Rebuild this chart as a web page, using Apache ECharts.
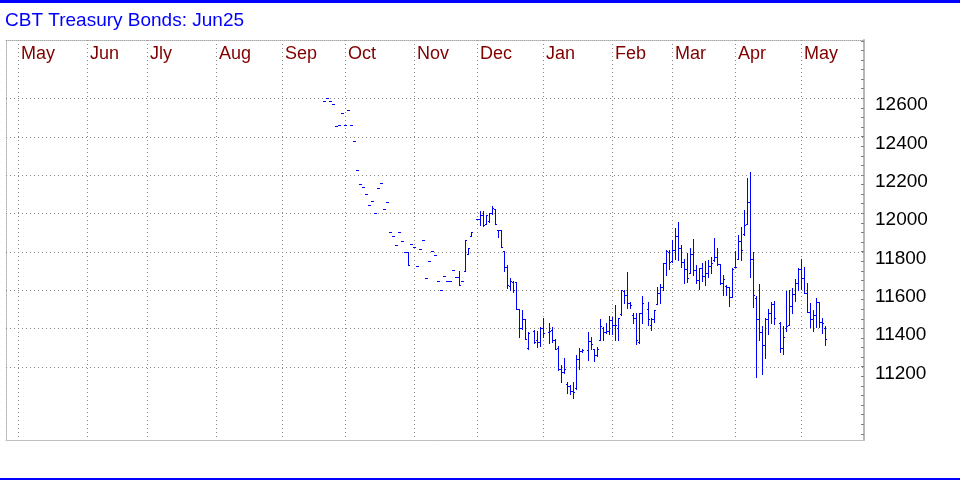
<!DOCTYPE html>
<html><head><meta charset="utf-8">
<script src="https://cdn.jsdelivr.net/npm/echarts@6/dist/echarts.min.js"></script>
<style>html,body{margin:0;padding:0;background:#fff}#c{width:960px;height:480px}</style>
</head><body><div id="c"></div>
<script>
const chartTitle = 'CBT Treasury Bonds: Jun25';
const axisStart = '2024-04-24';   // first weekday slot on the time axis
const axisDays = 287;             // number of weekday slots
const firstBar = '2024-09-19';    // date of the first price bar
const monthNames = ['Jan','Feb','Mar','Apr','May','Jun','Jly','Aug','Sep','Oct','Nov','Dec'];
const yLabels = [11200,11400,11600,11800,12000,12200,12400,12600];

const opens = [
12584,12600,12584,12569,12454,12459,12522,12459,12537,12459,
12376,12224,12151,12136,12099,12042,12063,12000,12131,12157,
12021,12058,11901,11880,11833,11901,11854,11797,11797,11838,
11822,11725,11812,11859,11661,11750,11802,11781,11646,11599,
11671,11645,11645,11703,11666,11666,11645,11699,11790,11883,
null,11969,11969,11991,11943,11960,12000,12020,11913,11913,
11805,11720,11620,11640,11640,11501,11400,11449,11300,null,
11385,11340,11330,11400,null,11380,11390,11341,11295,11189,
11172,11110,11100,11073,11090,11238,11282,null,11287,11336,
11290,11262,11340,11400,11380,11386,11444,11418,11400,11475,
11595,11574,11531,11470,11452,11330,11482,null,11500,11420,
11447,11527,11586,11614,11742,11800,11750,11809,11882,11818,
11748,11708,11690,11788,11705,11652,11713,11673,11689,11725,
11755,11771,11734,11635,11620,11617,11565,11718,11760,11856,
11890,11944,12058,11762,11560,11447,11383,11313,11447,11478,
11527,null,11430,11296,11400,11418,11517,11578,11635,11708,
11661,11586,11487,11447,11470,11539,11435,11400];
const highs = [
12584,12600,12584,12569,12454,12459,12522,12459,12537,12459,
12376,12224,12151,12136,12099,12042,12063,12000,12131,12157,
12021,12058,11901,11880,11833,11901,11854,11797,11797,11838,
11822,11725,11812,11859,11661,11750,11802,11781,11646,11599,
11671,11645,11645,11703,11666,11698,11645,11859,11818,11901,
null,11969,12012,12012,11991,12000,12038,12023,11913,11913,
11805,11730,11663,11647,11643,11501,11496,11449,11381,null,
11391,11388,11406,11452,null,11430,11406,11345,11308,11209,
11243,11122,11105,11122,11261,11296,11291,null,11383,11356,
11291,11302,11447,11406,11427,11466,11461,11522,11452,11600,
11600,11696,11539,11478,11478,11482,11569,null,11536,11452,
11496,11614,11631,11742,11809,11809,11861,11922,11956,11835,
11760,11792,11818,11864,11730,11715,11741,11751,11757,11772,
11870,11818,11736,11678,11626,11617,11713,11805,11887,11930,
12017,12186,12214,11800,11569,11631,11412,11452,11499,11539,
11544,null,11435,11412,11595,11600,11609,11656,11713,11760,
11718,11638,11531,11496,11557,11539,11452,11412];
const lows = [
12584,12600,12584,12569,12454,12459,12522,12459,12537,12459,
12376,12224,12151,12136,12099,12042,12063,12000,12131,12157,
12021,12058,11901,11880,11833,11901,11854,11797,11729,11838,
11822,11725,11812,11859,11661,11750,11802,11781,11646,11599,
11671,11645,11645,11703,11666,11625,11645,11699,11790,11883,
null,11969,11939,11935,11943,11956,11995,11943,11875,11824,
11700,11613,11600,11591,11501,11356,11395,11343,11294,null,
11325,11302,11310,11356,null,11322,11330,11291,11183,11122,
11165,11061,11057,11035,11082,11186,11275,null,11235,11292,
11230,11257,11339,11339,11374,11369,11370,11339,11339,11470,
11531,11505,11505,11427,11318,11322,11430,null,11418,11391,
11435,11527,11531,11600,11678,11708,11748,11760,11757,11722,
11635,11643,11687,11678,11635,11605,11647,11624,11666,11689,
11751,11728,11631,11574,11574,11518,11565,11718,11760,11757,
11887,11944,11669,11510,11148,11339,11160,11243,11370,11430,
11423,null,11278,11266,11388,11418,11482,11544,11600,11604,
11586,11487,11409,11388,11409,11409,11374,11313];
const closes = [
12584,12600,12584,12569,12454,12459,12522,12459,12537,12459,
12376,12224,12151,12136,12099,12042,12063,12000,12131,12157,
12021,12058,11901,11880,11833,11901,11854,11797,11729,11838,
11822,11725,11812,11859,11661,11750,11802,11781,11646,11599,
11671,11645,11645,11703,11666,11625,11645,11859,11818,11901,
null,11969,11991,11939,11991,12000,12030,11943,11913,11824,
11720,11625,11645,11600,11501,11400,11449,11343,11377,null,
11330,11330,11402,11376,null,11386,11341,11291,11189,11172,
11186,11101,11073,11069,11238,11282,11287,null,11336,11318,
11259,11292,11412,11381,11386,11444,11418,11418,11452,11600,
11574,11531,11522,11452,11339,11482,11531,null,11447,11447,
11496,11586,11614,11742,11805,11748,11809,11882,11818,11748,
11708,11661,11788,11705,11652,11713,11673,11689,11725,11742,
11771,11734,11635,11656,11617,11565,11708,11722,11856,11809,
11939,12058,11762,11574,11447,11383,11313,11447,11478,11527,
11452,null,11296,11354,11412,11517,11578,11635,11708,11661,
11586,11487,11447,11470,11539,11435,11430,11343];

// ---- build axis categories (weekday slots) ----
const dates = [];
let d = new Date(axisStart + 'T00:00:00Z');
while (dates.length < axisDays) {
  const wd = d.getUTCDay();
  if (wd !== 0 && wd !== 6) dates.push(d.toISOString().slice(0, 10));
  d = new Date(d.getTime() + 86400000);
}
const monthMark = {};
for (let i = 0; i < dates.length - 1; i++) {
  if (dates[i].slice(5, 7) !== dates[i + 1].slice(5, 7)) monthMark[i] = monthNames[+dates[i + 1].slice(5, 7) - 1];
}
const start = dates.indexOf(firstBar);
const bars = [];
opens.forEach((o, j) => {
  if (o == null) return;
  bars.push([start + j, o, highs[j], lows[j], closes[j]]);
});

const FONT = '"Liberation Sans", Arial, sans-serif';
const yTop = 12904.1, yBottom = 10817.5;
const BLUE = '#0000ff';

const chart = echarts.init(document.getElementById('c'), null, { renderer: 'canvas' });
chart.setOption({
  animation: false,
  backgroundColor: '#ffffff',
  title: {
    text: chartTitle, left: 5, top: 11, padding: 0,
    textStyle: { color: BLUE, fontSize: 19, fontWeight: 'normal', fontFamily: FONT }
  },
  graphic: [
    { type: 'rect', shape: { x: 0, y: 0, width: 960, height: 3 }, style: { fill: BLUE }, silent: true },
    { type: 'rect', shape: { x: 0, y: 478, width: 960, height: 2 }, style: { fill: BLUE }, silent: true }
  ],
  grid: [
    { left: 6, right: 96, top: 40, bottom: 40 },
    { left: 6, right: 96, top: 40.79, height: 393.0 },
    { left: 6, right: 96, top: 47.5, height: 393.0 }
  ],
  xAxis: [
    {
      gridIndex: 0, type: 'category', data: dates, boundaryGap: false, position: 'top',
      axisLine: { show: true, onZero: false, lineStyle: { color: '#a8a8a8', type: [1, 1], width: 1 } },
      axisTick: { show: false },
      axisLabel: {
        show: true, inside: true,
        interval: (i) => monthMark[i] !== undefined,
        formatter: (v, i) => monthMark[i] || '',
        color: '#800000', fontSize: 18, fontFamily: FONT,
        align: 'left', verticalAlign: 'middle', margin: 14, padding: [0, 0, 0, 3]
      },
      splitLine: {
        show: true, interval: (i) => monthMark[i] !== undefined,
        lineStyle: { color: '#888888', type: [1, 3], width: 1 }
      }
    },
    {
      gridIndex: 0, type: 'category', data: dates, boundaryGap: false, position: 'bottom',
      axisLine: { show: true, onZero: false, lineStyle: { color: '#c0c0c0', width: 1 } },
      axisTick: { show: false }, axisLabel: { show: false }, splitLine: { show: false }
    },
    { gridIndex: 1, type: 'category', data: dates, boundaryGap: false, show: false },
    { gridIndex: 2, type: 'category', data: dates, boundaryGap: false, show: false }
  ],
  yAxis: [
    {
      gridIndex: 0, type: 'value', position: 'right', min: yBottom, max: yTop,
      axisLine: { show: true, onZero: false, lineStyle: { color: '#b8b8b8', width: 2 } },
      axisTick: { show: false }, axisLabel: { show: false }, splitLine: { show: false }
    },
    {
      gridIndex: 0, type: 'value', position: 'left', min: yBottom, max: yTop,
      axisLine: { show: true, onZero: false, lineStyle: { color: '#b0b0b0', type: [1, 1], width: 1 } },
      axisTick: { show: false }, axisLabel: { show: false }, splitLine: { show: false }
    },
    {
      gridIndex: 1, type: 'value', position: 'right', min: 10850, max: 12900, interval: 50,
      axisLine: { show: false },
      axisTick: { show: true, inside: true, length: 3, lineStyle: { color: '#808080', width: 1 } },
      axisLabel: { show: false },
      splitLine: { show: false }
    },
    {
      gridIndex: 2, type: 'value', position: 'right', min: 10850, max: 12900, interval: 50,
      axisLine: { show: false }, axisTick: { show: false }, splitLine: { show: false },
      axisLabel: {
        show: true, color: '#000000', fontSize: 19, fontFamily: FONT, margin: 11,
        verticalAlign: 'middle',
        formatter: (v) => yLabels.includes(Math.round(v)) ? String(Math.round(v)) : ''
      }
    }
  ],
  series: [
    {
      name: 'grid', type: 'custom', xAxisIndex: 0, yAxisIndex: 0, silent: true, z: 1,
      data: yLabels.map(v => [0, v]),
      encode: { x: 0, y: 1 },
      renderItem: function (params, api) {
        const v = api.value(1);
        const p0 = api.coord([0, v]);
        const p1 = api.coord([dates.length - 1, v]);
        const y = Math.round(p0[1]) + 0.5;
        return { type: 'line', shape: { x1: p0[0], y1: y, x2: p1[0], y2: y },
                 style: { stroke: '#888888', lineWidth: 1, lineDash: [1, 3] } };
      }
    },
    {
      name: 'Jun25', type: 'custom', xAxisIndex: 0, yAxisIndex: 0, silent: true, z: 3,
      data: bars,
      encode: { x: 0, y: [1, 2, 3, 4] },
      renderItem: function (params, api) {
        const k = api.value(0);
        const pH = api.coord([k, api.value(2)]);
        const pL = api.coord([k, api.value(3)]);
        const pO = api.coord([k, api.value(1)]);
        const pC = api.coord([k, api.value(4)]);
        const x = Math.round(pH[0]);
        const yH = Math.round(pH[1]), yL = Math.round(pL[1]);
        const yO = Math.round(pO[1]), yC = Math.round(pC[1]);
        const st = { fill: BLUE };
        return { type: 'group', children: [
          { type: 'rect', shape: { x: x, y: yH, width: 1, height: Math.max(1, yL - yH + 1) }, style: st },
          { type: 'rect', shape: { x: x - 1, y: yO, width: 1, height: 1 }, style: st },
          { type: 'rect', shape: { x: x + 1, y: yC, width: 1, height: 1 }, style: st }
        ] };
      }
    }
  ]
});
</script>
</body></html>
